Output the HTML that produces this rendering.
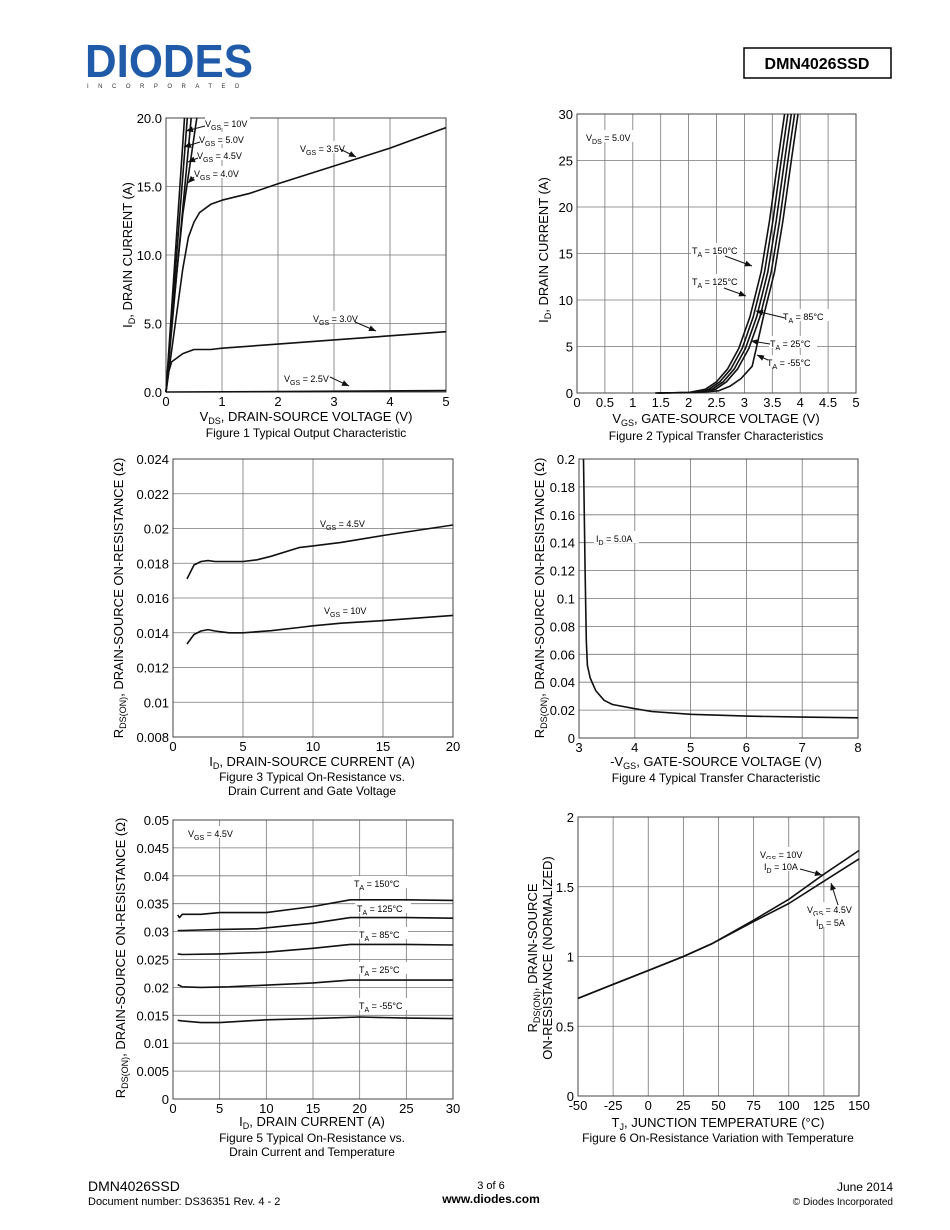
<!DOCTYPE html>
<html><head><meta charset="utf-8">
<style>
html,body{margin:0;padding:0;background:#fff;}
svg{display:block;font-family:"Liberation Sans",Arial,sans-serif;}
</style></head>
<body>
<svg id="s" width="950" height="1230" viewBox="0 0 950 1230" xmlns="http://www.w3.org/2000/svg"></svg>
<script>
var o='';
function T(x,y,t,sz,anch,extra){o+='<text x="'+x+'" y="'+y+'" font-size="'+(sz||11)+'" text-anchor="'+(anch||'start')+'" '+(extra||'')+'>'+t+'</text>';}
function plot(P){
 var X=function(v){return P.x0+(v-P.xmin)/(P.xmax-P.xmin)*(P.x1-P.x0);};
 var Y=function(v){return P.y1-(v-P.ymin)/(P.ymax-P.ymin)*(P.y1-P.y0);};
 for(var i=0;i<=P.nx;i++){var x=P.x0+i*(P.x1-P.x0)/P.nx;o+='<line x1="'+x+'" y1="'+P.y0+'" x2="'+x+'" y2="'+P.y1+'" stroke="#777" stroke-width="0.8"/>';}
 for(var j=0;j<=P.ny;j++){var y=P.y0+j*(P.y1-P.y0)/P.ny;o+='<line x1="'+P.x0+'" y1="'+y+'" x2="'+P.x1+'" y2="'+y+'" stroke="#777" stroke-width="0.8"/>';}
 o+='<rect x="'+P.x0+'" y="'+P.y0+'" width="'+(P.x1-P.x0)+'" height="'+(P.y1-P.y0)+'" fill="none" stroke="#444" stroke-width="1"/>';
 for(var i=0;i<P.xl.length;i++){var x=P.x0+i*(P.x1-P.x0)/(P.xl.length-1);T(x,P.y1+14,P.xl[i],13,'middle');}
 for(var j=0;j<P.yl.length;j++){var y=P.y1-j*(P.y1-P.y0)/(P.yl.length-1);T(P.x0-4,y+5,P.yl[j],13,'end');}
 (P.curves||[]).forEach(function(c){var d='';c.forEach(function(p,k){d+=(k?'L':'M')+X(p[0]).toFixed(1)+','+Y(p[1]).toFixed(1);});o+='<path d="'+d+'" fill="none" stroke="#111" stroke-width="1.6" stroke-linejoin="round"/>';});
}
function arrow(x1,y1,x2,y2){o+='<line x1="'+x1+'" y1="'+y1+'" x2="'+x2+'" y2="'+y2+'" stroke="#111" stroke-width="1"/>';var a=Math.atan2(y2-y1,x2-x1),L=7,w=3;var bx=x2-L*Math.cos(a),by=y2-L*Math.sin(a);o+='<polygon points="'+x2+','+y2+' '+(bx+w*Math.sin(a))+','+(by-w*Math.cos(a))+' '+(bx-w*Math.sin(a))+','+(by+w*Math.cos(a))+'" fill="#111"/>';}
function lbl(x,y,a,sub,b,sz){sz=sz||9;o+='<text x="'+x+'" y="'+y+'" font-size="'+sz+'">'+a+'<tspan font-size="'+(sz-2)+'" dy="3">'+sub+'</tspan><tspan dy="-3">'+b+'</tspan></text>';}
function wl(x,y,w){o+='<rect x="'+x+'" y="'+(y-9)+'" width="'+w+'" height="12" fill="#fff"/>';}

// header
o+='<text x="85" y="77" font-size="46" font-weight="bold" fill="#1f5ba8" textLength="168" lengthAdjust="spacingAndGlyphs">DIODES</text>';
o+='<text x="87" y="88" font-size="6" fill="#333" letter-spacing="9.5">INCORPORATED</text>';
o+='<rect x="744" y="48" width="147" height="30" fill="#fff" stroke="#000" stroke-width="1.5"/>';
T(817,69,'DMN4026SSD',16,'middle','font-weight="bold"');

// Fig1
var v35=[[0,0],[0.1,3],[0.2,6],[0.3,9],[0.4,11.3],[0.5,12.4],[0.6,13.1],[0.8,13.7],[1,14],[1.5,14.5],[2,15.2],[3,16.5],[4,17.8],[5,19.3]];
var v30=[[0,0],[0.05,1.5],[0.1,2.2],[0.3,2.8],[0.5,3.1],[0.8,3.1],[1,3.2],[2,3.5],[3,3.8],[4,4.1],[5,4.4]];
plot({x0:166,x1:446,y0:118,y1:392,xmin:0,xmax:5,ymin:0,ymax:20,nx:5,ny:4,xl:['0','1','2','3','4','5'],yl:['0.0','5.0','10.0','15.0','20.0'],
 curves:[v35,v30,[[0,0],[2,0.03],[5,0.1]],[[0,0],[0.1,5],[0.3,13],[0.55,20]],[[0,0],[0.2,9],[0.45,20]],[[0,0],[0.38,20]],[[0,0],[0.33,20]]]});
wl(205,125,45);lbl(205,127,'V','GS',' = 10V');arrow(205,126,186,131);
wl(199,141,45);lbl(199,143,'V','GS',' = 5.0V');arrow(200,142,184,147);
wl(196,157,45);lbl(197,159,'V','GS',' = 4.5V');arrow(198,158,188,162);
wl(193,175,45);lbl(194,177,'V','GS',' = 4.0V');arrow(194,177,188,183);
wl(300,150,50);lbl(300,152,'V','GS',' = 3.5V');arrow(340,149,356,157);
wl(313,320,50);lbl(313,322,'V','GS',' = 3.0V');arrow(355,322,376,331);
wl(284,380,48);lbl(284,382,'V','GS',' = 2.5V');arrow(330,377,349,386);
o+='<text transform="translate(132,255) rotate(-90)" font-size="13" text-anchor="middle">I<tspan font-size="9" dy="3">D</tspan><tspan dy="-3">, DRAIN CURRENT (A)</tspan></text>';
o+='<text x="306" y="421" font-size="13" text-anchor="middle">V<tspan font-size="9" dy="3">DS</tspan><tspan dy="-3">, DRAIN-SOURCE VOLTAGE (V)</tspan></text>';
T(306,437,'Figure 1 Typical Output Characteristic',12,'middle');

// Fig2
var base=[[1.4,0],[2.0,0.05],[2.3,0.4],[2.5,1.2],[2.7,2.6],[2.9,4.8],[3.1,8.2],[3.3,13],[3.45,18.5],[3.6,25],[3.72,30]];
var c2=[];for(var i=0;i<5;i++){c2.push(base.map(function(p){var s=i*0.06*(p[0]>2?1:0.3);var y=p[1];if(i==4&&p[0]<3)y=y*0.6;return [p[0]+s,y];}));}
plot({x0:577,x1:856,y0:114,y1:393,xmin:0,xmax:5,ymin:0,ymax:30,nx:10,ny:6,xl:['0','0.5','1','1.5','2','2.5','3','3.5','4','4.5','5'],yl:['0','5','10','15','20','25','30'],curves:c2});
wl(584,139,50);lbl(586,141,'V','DS',' = 5.0V');
wl(691,252,52);lbl(692,254,'T','A',' = 150°C');arrow(725,256,752,266);
wl(691,283,52);lbl(692,285,'T','A',' = 125°C');arrow(724,288,746,296);
wl(782,318,48);lbl(783,320,'T','A',' = 85°C');arrow(785,318,756,311);
wl(769,345,48);lbl(770,347,'T','A',' = 25°C');arrow(770,344,751,341);
wl(766,364,50);lbl(767,366,'T','A',' = -55°C');arrow(768,360,757,355);
o+='<text transform="translate(548,250) rotate(-90)" font-size="13" text-anchor="middle">I<tspan font-size="9" dy="3">D</tspan><tspan dy="-3">, DRAIN CURRENT (A)</tspan></text>';
o+='<text x="716" y="423" font-size="13" text-anchor="middle">V<tspan font-size="9" dy="3">GS</tspan><tspan dy="-3">, GATE-SOURCE VOLTAGE (V)</tspan></text>';
T(716,440,'Figure 2 Typical Transfer Characteristics',12,'middle');

// Fig3
plot({x0:173,x1:453,y0:459,y1:737,xmin:0,xmax:20,ymin:0.008,ymax:0.024,nx:4,ny:8,xl:['0','5','10','15','20'],yl:['0.008','0.01','0.012','0.014','0.016','0.018','0.02','0.022','0.024'],
curves:[[[1,0.0171],[1.5,0.0179],[2,0.0181],[2.5,0.01815],[3,0.0181],[5,0.0181],[6,0.0182],[7,0.0184],[9,0.0189],[10,0.0190],[12,0.0192],[15,0.0196],[20,0.0202]],
[[1,0.01335],[1.5,0.0139],[2,0.0141],[2.5,0.01418],[3,0.0141],[4,0.0140],[5,0.0140],[7,0.01412],[9,0.0143],[10,0.0144],[12,0.01455],[15,0.0147],[20,0.0150]]]});
wl(318,525,52);lbl(320,527,'V','GS',' = 4.5V');
wl(322,612,50);lbl(324,614,'V','GS',' = 10V');
o+='<text transform="translate(123,598) rotate(-90)" font-size="13" text-anchor="middle">R<tspan font-size="9" dy="3">DS(ON)</tspan><tspan dy="-3">, DRAIN-SOURCE ON-RESISTANCE (Ω)</tspan></text>';
o+='<text x="312" y="766" font-size="13" text-anchor="middle">I<tspan font-size="9" dy="3">D</tspan><tspan dy="-3">, DRAIN-SOURCE CURRENT (A)</tspan></text>';
T(312,781,'Figure 3 Typical On-Resistance vs.',12,'middle');
T(312,795,'Drain Current and Gate Voltage',12,'middle');

// Fig4
plot({x0:579,x1:858,y0:459,y1:738,xmin:3,xmax:8,ymin:0,ymax:0.2,nx:5,ny:10,xl:['3','4','5','6','7','8'],yl:['0','0.02','0.04','0.06','0.08','0.1','0.12','0.14','0.16','0.18','0.2'],
curves:[[[3.08,0.2],[3.11,0.12],[3.13,0.07],[3.15,0.052],[3.2,0.043],[3.3,0.034],[3.45,0.027],[3.6,0.024],[4,0.021],[4.3,0.019],[5,0.017],[6,0.0157],[7,0.015],[8,0.0145]]]});
wl(594,540,45);lbl(596,542,'I','D',' =  5.0A');
o+='<text transform="translate(544,598) rotate(-90)" font-size="13" text-anchor="middle">R<tspan font-size="9" dy="3">DS(ON)</tspan><tspan dy="-3">, DRAIN-SOURCE ON-RESISTANCE (Ω)</tspan></text>';
o+='<text x="716" y="766" font-size="13" text-anchor="middle">-V<tspan font-size="9" dy="3">GS</tspan><tspan dy="-3">, GATE-SOURCE VOLTAGE (V)</tspan></text>';
T(716,782,'Figure 4 Typical Transfer Characteristic',12,'middle');

// Fig5
plot({x0:173,x1:453,y0:820,y1:1099,xmin:0,xmax:30,ymin:0,ymax:0.05,nx:6,ny:10,xl:['0','5','10','15','20','25','30'],yl:['0','0.005','0.01','0.015','0.02','0.025','0.03','0.035','0.04','0.045','0.05'],
curves:[[[0.5,0.033],[0.7,0.0325],[1,0.0331],[3,0.0331],[5,0.0334],[10,0.0334],[15,0.0345],[19,0.0357],[25,0.0357],[30,0.0356]],
[[0.5,0.0302],[1,0.0302],[5,0.0304],[9,0.0305],[15,0.0315],[19,0.0325],[25,0.0325],[30,0.0324]],
[[0.5,0.026],[1,0.0259],[5,0.026],[10,0.0263],[15,0.027],[19,0.0277],[25,0.0277],[30,0.0276]],
[[0.5,0.0205],[1,0.0201],[3,0.02],[6,0.0201],[15,0.0208],[19,0.0213],[30,0.0213]],
[[0.5,0.0141],[1,0.014],[3,0.0137],[5,0.0137],[10,0.0142],[15,0.0144],[20,0.0147],[25,0.0145],[30,0.0144]]]});
wl(186,835,50);lbl(188,837,'V','GS',' = 4.5V');
wl(352,885,56);lbl(354,887,'T','A',' = 150°C');
wl(355,910,56);lbl(357,912,'T','A',' = 125°C');
wl(358,936,50);lbl(359,938,'T','A',' = 85°C');
wl(358,971,50);lbl(359,973,'T','A',' = 25°C');
wl(358,1007,52);lbl(359,1009,'T','A',' = -55°C');
o+='<text transform="translate(125,958) rotate(-90)" font-size="13" text-anchor="middle">R<tspan font-size="9" dy="3">DS(ON)</tspan><tspan dy="-3">, DRAIN-SOURCE ON-RESISTANCE (Ω)</tspan></text>';
o+='<text x="312" y="1126" font-size="13" text-anchor="middle">I<tspan font-size="9" dy="3">D</tspan><tspan dy="-3">, DRAIN CURRENT (A)</tspan></text>';
T(312,1142,'Figure 5 Typical On-Resistance vs.',12,'middle');
T(312,1156,'Drain Current and Temperature',12,'middle');

// Fig6
plot({x0:578,x1:859,y0:817,y1:1096,xmin:-50,xmax:150,ymin:0,ymax:2,nx:8,ny:4,xl:['-50','-25','0','25','50','75','100','125','150'],yl:['0','0.5','1','1.5','2'],
curves:[[[-50,0.7],[-25,0.8],[0,0.9],[25,1.0],[45,1.09],[75,1.26],[100,1.41],[125,1.59],[150,1.76]],
[[-50,0.7],[-25,0.8],[0,0.9],[25,1.0],[45,1.09],[75,1.25],[100,1.38],[125,1.54],[150,1.70]]]});
wl(758,856,48);lbl(760,858,'V','GS',' = 10V');
wl(763,868,42);lbl(764,870,'I','D',' = 10A');arrow(800,869,822,875);
wl(806,911,52);lbl(807,913,'V','GS',' = 4.5V');
wl(815,924,36);lbl(816,926,'I','D',' = 5A');arrow(838,905,831,883);
o+='<text transform="translate(537,958) rotate(-90)" font-size="13" text-anchor="middle">R<tspan font-size="9" dy="3">DS(ON)</tspan><tspan dy="-3">, DRAIN-SOURCE</tspan></text>';
o+='<text transform="translate(552,958) rotate(-90)" font-size="13" text-anchor="middle">ON-RESISTANCE (NORMALIZED)</text>';
o+='<text x="718" y="1127" font-size="13" text-anchor="middle">T<tspan font-size="9" dy="3">J</tspan><tspan dy="-3">, JUNCTION TEMPERATURE (°C)</tspan></text>';
T(718,1142,'Figure 6 On-Resistance Variation with Temperature',12,'middle');

// footer
T(88,1191,'DMN4026SSD',14);
T(88,1205,'Document number: DS36351 Rev. 4 - 2',11);
T(491,1189,'3 of 6',11,'middle');
T(491,1203,'www.diodes.com',12,'middle','font-weight="bold"');
T(893,1191,'June 2014',12,'end');
T(893,1205,'© Diodes Incorporated',10,'end');
document.getElementById('s').innerHTML=o;
</script>
</body></html>
